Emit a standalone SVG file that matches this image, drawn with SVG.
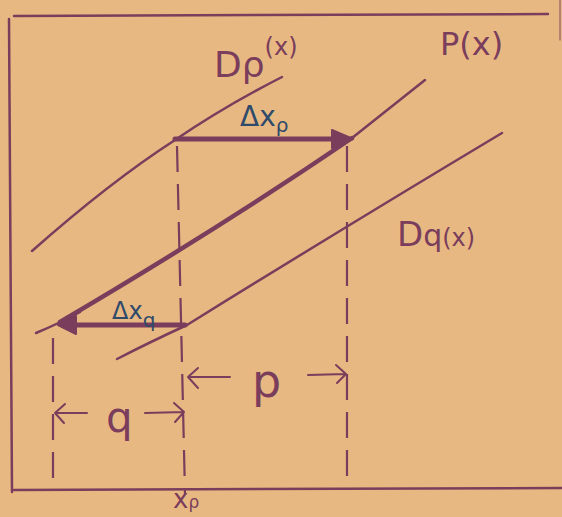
<svg xmlns="http://www.w3.org/2000/svg" width="562" height="517" viewBox="0 0 562 517">
<style>
.ink{stroke:#7a3d5c;fill:none;stroke-linecap:round;stroke-linejoin:round}
.thin{stroke-width:2.5}
.thick{stroke-width:5}
.dash{stroke:#7a3d5c;stroke-width:2.2;fill:none;stroke-dasharray:26 12}
.lbl{font-family:"DejaVu Sans",sans-serif;fill:#7a3d5c}
.blue{font-family:"DejaVu Sans",sans-serif;fill:#2f4a6a}
.head{fill:#7a3d5c;stroke:#7a3d5c;stroke-width:2;stroke-linejoin:round}
</style>
<rect width="562" height="517" fill="#e8b882"/>
<g id="frame">
<path class="ink thin" d="M14 16 L548 14"/>
<path class="ink thin" d="M9 19 L12 492"/>
<path class="ink thin" d="M14 490 L562 488"/>
<path class="ink" stroke-width="1.5" d="M560 0 L560 40" opacity="0.6"/>
</g>
<g id="connectors">
<path class="dash" d="M177 146 L185 494"/>
<path class="dash" d="M347 146 L347 480"/>
<path class="dash" d="M53 338 L53 490"/>
<path class="ink thick" d="M70 325 L185 325"/>
<path class="head" d="M58 325 L76 316 L76 334 Z"/>
<path class="ink thick" d="M175 139 L334 139"/>
<path class="head" d="M353 139 L332 130 L332 148 Z"/>
<path class="ink" stroke-width="2" d="M230 377 L188 377 M198 368 L188 377 L198 388"/>
<path class="ink" stroke-width="2" d="M308 375 L346 374 M336 365 L346 374 L337 383"/>
<path class="ink" stroke-width="2" d="M87 413 L55 413 M65 404 L55 413 L64 423"/>
<path class="ink" stroke-width="2" d="M145 413 L184 412 M174 403 L184 412 L175 422"/>
</g>
<g id="Dp">
<path class="ink thin" d="M32 251 Q110 182 175 140 Q225 106 282 77"/>
<text class="lbl" x="214" y="77" font-size="36">Dρ<tspan font-size="24" dy="-22">(x)</tspan></text>
</g>
<g id="P">
<path class="ink thin" d="M36 333 Q60 323 80 312"/>
<path class="ink" stroke-width="4.5" d="M60 322 Q220 228 352 138"/>
<path class="ink thin" d="M352 138 Q390 108 425 80"/>
<text class="lbl" x="440" y="55" font-size="32">P(x)</text>
</g>
<g id="Dq">
<path class="ink thin" d="M117 359 Q150 342 187 325 Q340 230 502 133"/>
<text class="lbl" x="397" y="246" font-size="34">D<tspan font-size="30">q</tspan><tspan font-size="24">(x)</tspan></text>
</g>
<g id="labels">
<text class="blue" x="240" y="126" font-size="28">Δx<tspan font-size="20" dy="6">ρ</tspan></text>
<text class="blue" x="112" y="319" font-size="24">Δx<tspan font-size="20" dy="8">q</tspan></text>
<text class="lbl" x="252" y="397" font-size="46">p</text>
<text class="lbl" x="106" y="432" font-size="42">q</text>
<text class="lbl" x="173" y="508" font-size="26">x<tspan font-size="17">ρ</tspan></text>
</g>
</svg>
